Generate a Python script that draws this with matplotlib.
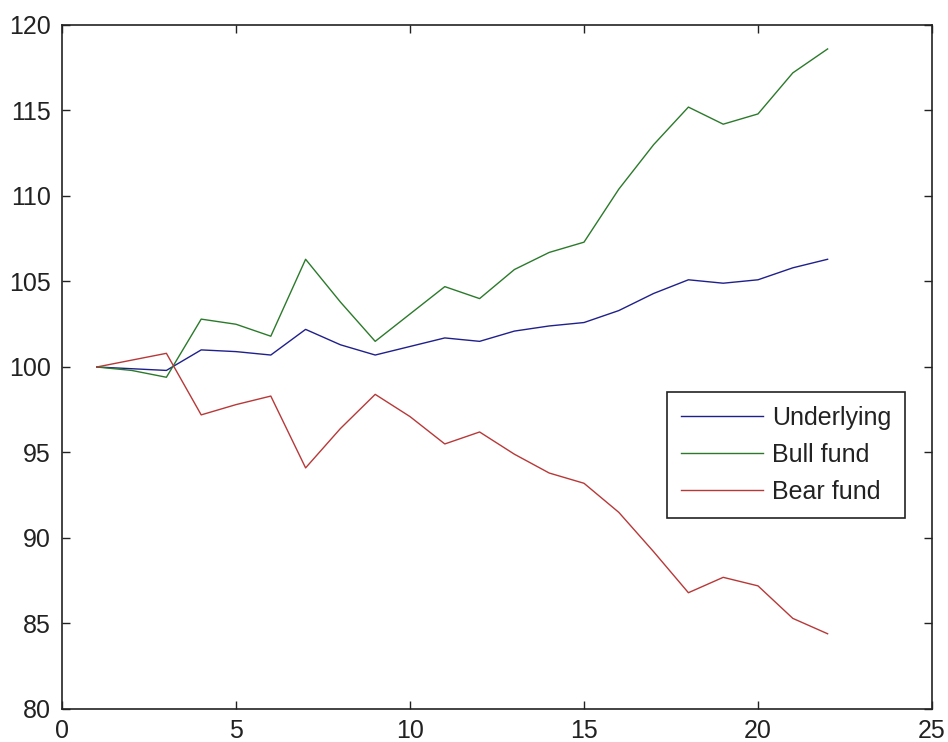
import numpy as np
import matplotlib.pyplot as plt

plt.rcParams['font.family'] = ['Liberation Sans', 'DejaVu Sans']

days = np.arange(1, 23)

underlying = [100.0, 99.9, 99.8, 101.0, 100.9, 100.7, 102.2, 101.3, 100.7, 101.2, 101.7,
              101.5, 102.1, 102.4, 102.6, 103.3, 104.3, 105.1, 104.9, 105.1, 105.8, 106.3]
bull_fund = [100.0, 99.8, 99.4, 102.8, 102.5, 101.8, 106.3, 103.8, 101.5, 103.1, 104.7,
             104.0, 105.7, 106.7, 107.3, 110.4, 113.0, 115.2, 114.2, 114.8, 117.2, 118.6]
bear_fund = [100.0, 100.4, 100.8, 97.2, 97.8, 98.3, 94.1, 96.4, 98.4, 97.1, 95.5,
             96.2, 94.9, 93.8, 93.2, 91.5, 89.2, 86.8, 87.7, 87.2, 85.3, 84.4]

fig = plt.figure(figsize=(9.48, 7.42), dpi=100)
# axes box in pixels: x 62..932, y 25..709
ax = fig.add_axes([62 / 948, 33 / 742, 870 / 948, 684 / 742])

ax.plot(days, underlying, color='#20208c', lw=1.0, label='Underlying')
ax.plot(days, bull_fund, color='#2b7a2b', lw=1.0, label='Bull fund')
ax.plot(days, bear_fund, color='#b83838', lw=1.0, label='Bear fund')

ax.set_xlim(0, 25)
ax.set_ylim(80, 120)
ax.set_xticks(range(0, 26, 5))
ax.set_yticks(range(80, 121, 5))
ax.tick_params(direction='in', top=True, right=True, length=6, width=1,
               labelsize=18, colors='#222222')
ax.tick_params(axis='y', pad=8)
ax.tick_params(axis='x', pad=7.5)
for s in ax.spines.values():
    s.set_linewidth(1.2)
    s.set_color('#222222')

leg = ax.legend(loc='upper left', bbox_to_anchor=((667 - 62) / 870, (709 - 392) / 684),
                fontsize=18, handlelength=3.3, handletextpad=0.35,
                borderpad=0.55, labelspacing=0.52, borderaxespad=0,
                fancybox=False, framealpha=1, edgecolor='#222222')
leg.get_frame().set_linewidth(1.2)
for t in leg.get_texts():
    t.set_color('#222222')

fig.savefig('out.png', dpi=100)
